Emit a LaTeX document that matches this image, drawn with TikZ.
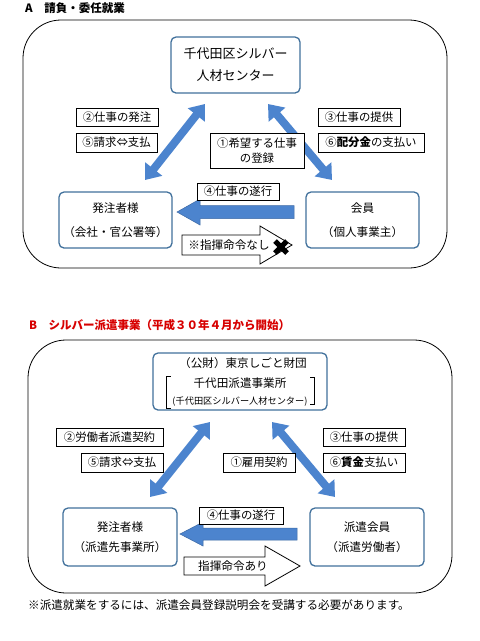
\documentclass[tikz,border=0pt]{standalone}
\usepackage{fontspec}
\setmainfont{Noto Sans CJK JP}
\usetikzlibrary{arrows.meta}
\definecolor{arrblue}{RGB}{76,132,206}
\definecolor{boxblue}{RGB}{65,113,156}
\definecolor{titlered}{RGB}{215,0,0}
\tikzset{
  entity/.style={draw=boxblue, line width=1.3pt, rounded corners=5pt, align=center, inner sep=0pt},
  lbl/.style={draw=black, line width=0.6pt, fill=white, inner sep=0pt, align=center, font=\fontsize{11.4}{15}\selectfont},
  frame/.style={draw=black, line width=0.8pt, rounded corners=38pt},
  dbl/.style={draw=arrblue, line width=8pt, {Triangle[width=21pt,length=14pt]}-{Triangle[width=21pt,length=14pt]}},
  blockarr/.style={fill=arrblue, draw=arrblue!80!black, line width=0.5pt},
  outarr/.style={fill=white, draw=black, line width=0.8pt},
  txt/.style={inner sep=0pt, font=\fontsize{11.6}{14}\selectfont},
}
\begin{document}
\begin{tikzpicture}[x=1pt,y=-1pt]
\useasboundingbox[fill=white] (0,0) rectangle (480,641);

%%%%% A %%%%%
\node[txt, anchor=west, font=\fontsize{11.5}{14}\selectfont\bfseries] (titleA) at (25,8) {A　請負・委任就業};
\draw[frame] (23,20) rectangle (447,268);

\node[entity, minimum width=129, minimum height=56, font=\fontsize{13}{22}\selectfont] (aTop) at (235.5,65) {千代田区シルバー\\人材センター};
\node[entity, minimum width=113, minimum height=56, font=\fontsize{11.6}{24}\selectfont] (aL) at (115.5,220) {発注者様\\（会社・官公署等）};
\node[entity, minimum width=113, minimum height=56, font=\fontsize{11.6}{24}\selectfont] (aR) at (362.5,220) {会員\\（個人事業主）};

\coordinate (aLb) at (145,180);
\coordinate (aLt) at (205,104);
\coordinate (aRt) at (268,104);
\coordinate (aRb) at (332,180);
\draw[dbl] (aLb) -- (aLt);
\draw[dbl] (aRt) -- (aRb);

\node[lbl, minimum width=82, minimum height=18] (a2) at (117,117) {②仕事の発注};
\node[lbl, minimum width=81, minimum height=19] (a5) at (116.5,142.5) {⑤請求⇔支払};
\node[lbl, minimum width=94, minimum height=35] (a1) at (257,150.5) {①希望する仕事\\の登録};
\node[lbl, minimum width=82, minimum height=18] (a3) at (359,117) {③仕事の提供};
\node[lbl, minimum width=106, minimum height=19] (a6) at (371,142.5) {⑥{\bfseries 配分金}の支払い};

% block arrow (member -> client)
\draw[blockarr] (294,205.5) -- (200,205.5) -- (200,199) -- (177,212) -- (200,225) -- (200,218.5) -- (294,218.5) -- cycle;
\node[lbl, minimum width=82, minimum height=17] (a4) at (238,191.5) {④仕事の遂行};

% outline arrow
\draw[outarr] (182,235) -- (260,235) -- (260,226) -- (292,245) -- (260,264) -- (260,255) -- (182,255) -- cycle;
\node[txt] (aCmd) at (229,245) {※指揮命令なし};
\draw[line width=5pt] (275,241) -- (287,253) (275,253) -- (287,241);

%%%%% B %%%%%
\node[txt, anchor=west, text=titlered, font=\fontsize{11.5}{14}\selectfont\bfseries] (titleB) at (29,325) {B　シルバー派遣事業（平成３０年４月から開始）};
\draw[frame] (28,340) rectangle (452,593);

\node[entity, minimum width=174, minimum height=57] (bTop) at (240,381.5) {};
\node[txt] (bTop1) at (243,363.5) {（公財）東京しごと財団};
\node[txt] (bTop2) at (240,383) {千代田派遣事業所};
\node[txt, font=\fontsize{9.2}{11}\selectfont] (bTop3) at (240,402) {(千代田区シルバー人材センター)};
\draw[line width=0.7pt] (170.5,376) -- (166.5,376) -- (166.5,408) -- (170.5,408);
\draw[line width=0.7pt] (310,377) -- (314,377) -- (314,404) -- (310,404);

\node[entity, minimum width=114, minimum height=58, font=\fontsize{11.6}{20}\selectfont] (bL) at (120,537) {発注者様\\（派遣先事業所）};
\node[entity, minimum width=114, minimum height=58, font=\fontsize{11.6}{20}\selectfont] (bR) at (367,537) {派遣会員\\（派遣労働者）};

\coordinate (bLb) at (150,497);
\coordinate (bLt) at (210,422);
\coordinate (bRt) at (272,422);
\coordinate (bRb) at (335,497);
\draw[dbl] (bLb) -- (bLt);
\draw[dbl] (bRt) -- (bRb);

\node[lbl, minimum width=107, minimum height=18] (b2) at (109.5,437) {②労働者派遣契約};
\node[lbl, minimum width=82, minimum height=19] (b5) at (122,462.5) {⑤請求⇔支払};
\node[lbl, minimum width=72, minimum height=19] (b1) at (259,462.5) {①雇用契約};
\node[lbl, minimum width=82, minimum height=18] (b3) at (364,437) {③仕事の提供};
\node[lbl, minimum width=82, minimum height=19] (b6) at (364,462.5) {⑥{\bfseries 賃金}支払い};

\draw[blockarr] (297,528) -- (203,528) -- (203,522) -- (180,534) -- (203,546) -- (203,540) -- (297,540) -- cycle;
\node[lbl, minimum width=84, minimum height=17] (b4) at (241,515.5) {④仕事の遂行};

\draw[outarr] (184,557) -- (265,557) -- (265,546) -- (300,566) -- (265,586) -- (265,575) -- (184,575) -- cycle;
\node[txt] (bCmd) at (233,566) {指揮命令あり};

\node[txt, anchor=west] (note) at (28,605.5) {※派遣就業をするには、派遣会員登録説明会を受講する必要があります。};
\end{tikzpicture}
\end{document}
